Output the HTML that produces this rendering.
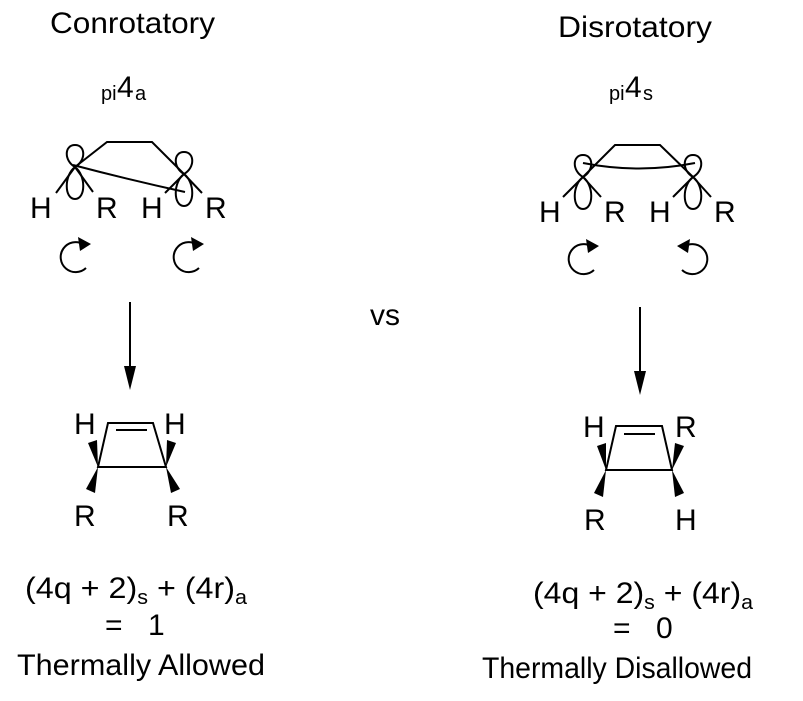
<!DOCTYPE html>
<html><head><meta charset="utf-8"><style>
html,body{margin:0;padding:0;background:#fff;}
svg{display:block;}
text{font-family:"Liberation Sans",Arial,sans-serif;fill:#000;}
</style></head><body>
<svg width="803" height="701" viewBox="0 0 803 701" xmlns="http://www.w3.org/2000/svg">
<defs>
<path id="lobes" d="M0,0 C-11,-6 -11,-22 0,-22 C11,-22 11,-6 0,0 C-11,8 -11,32 0,32 C11,32 11,8 0,0 Z" fill="none" stroke="#000" stroke-width="2"/>
</defs>
<text x="50" y="33" font-size="30" textLength="165" lengthAdjust="spacingAndGlyphs">Conrotatory</text>
<text x="558" y="37" font-size="30" textLength="154" lengthAdjust="spacingAndGlyphs">Disrotatory</text>
<text x="101" y="100" font-size="20">pi</text><text x="117" y="97" font-size="30">4</text><text x="135" y="100" font-size="20">a</text>
<text x="609" y="100" font-size="20">pi</text><text x="625" y="97" font-size="30">4</text><text x="643" y="100" font-size="20">s</text>

<g stroke="#000" stroke-width="2" fill="none">
<polyline points="75,167 107,142 152,142 184,174"/>
<line x1="75" y1="167" x2="56" y2="193"/><line x1="75" y1="167" x2="93" y2="192"/>
<line x1="184" y1="174" x2="165" y2="193"/><line x1="184" y1="174" x2="202" y2="193"/>
<path d="M73,165 Q130,180 185,192"/>
<polyline points="583,177 615,145 660,145 693,177"/>
<line x1="583" y1="177" x2="563" y2="197"/><line x1="583" y1="177" x2="601" y2="197"/>
<line x1="693" y1="177" x2="673" y2="197"/><line x1="693" y1="177" x2="711" y2="197"/>
<path d="M583,163 Q639,174 695,163"/>
<path d="M86,268 A15,15 0 1 1 83,244"/>
<path d="M199,268 A15,15 0 1 1 196,244"/>
<path d="M594,270 A15,15 0 1 1 591,246"/>
<path d="M682,270 A15,15 0 1 0 685,246"/>
<line x1="130" y1="302" x2="130" y2="375"/>
<line x1="640" y1="307" x2="640" y2="380"/>
<polygon points="108,423 153,423 166,467 98,467"/>
<line x1="116" y1="430" x2="147" y2="430"/>
<polygon points="616,426 662,426 672,470 606,470"/>
<line x1="624" y1="434" x2="655" y2="434"/>
</g>
<use href="#lobes" x="75" y="167"/>
<use href="#lobes" x="184" y="174"/>
<use href="#lobes" x="583" y="177"/>
<use href="#lobes" x="693" y="177"/>
<polygon points="91,244 78,237 80,251"/>
<polygon points="204,244 191,237 193,251"/>
<polygon points="599,246 586,239 588,253"/>
<polygon points="677,246 690,239 688,253"/>
<polygon points="124,366 136,366 130,390"/>
<polygon points="634,371 646,371 640,395"/>
<polygon points="98,467 88,443 97,440"/>
<polygon points="98,467 86,489 95,493"/>
<polygon points="166,467 167,440 176,443"/>
<polygon points="166,467 171,493 180,489"/>
<polygon points="606,470 597,446 606,443"/>
<polygon points="606,470 594,493 603,497"/>
<polygon points="672,470 675,443 684,446"/>
<polygon points="672,470 675,497 684,493"/>

<g font-size="30">
<text x="30" y="218">H</text><text x="96" y="218">R</text><text x="141" y="218">H</text><text x="205" y="218">R</text>
<text x="539" y="222">H</text><text x="604" y="222">R</text><text x="649" y="222">H</text><text x="714" y="222">R</text>
<text x="74" y="434">H</text><text x="164" y="434">H</text>
<text x="74" y="526">R</text><text x="167" y="526">R</text>
<text x="583" y="437">H</text><text x="675" y="437">R</text>
<text x="584" y="530">R</text><text x="675" y="530">H</text>
<text x="370" y="325">vs</text>
</g>
<text x="25" y="598" font-size="30" textLength="222" lengthAdjust="spacingAndGlyphs">(4q + 2)<tspan font-size="20" dy="6">s</tspan><tspan dy="-6"> + (4r)</tspan><tspan font-size="20" dy="6">a</tspan></text>
<text x="105" y="635" font-size="30">=</text><text x="148" y="635" font-size="30">1</text>
<text x="17" y="675" font-size="30" textLength="248" lengthAdjust="spacingAndGlyphs">Thermally Allowed</text>
<text x="533" y="603" font-size="30" textLength="220" lengthAdjust="spacingAndGlyphs">(4q + 2)<tspan font-size="20" dy="6">s</tspan><tspan dy="-6"> + (4r)</tspan><tspan font-size="20" dy="6">a</tspan></text>
<text x="613" y="638" font-size="30">=</text><text x="656" y="638" font-size="30">0</text>
<text x="482" y="678" font-size="30" textLength="270" lengthAdjust="spacingAndGlyphs">Thermally Disallowed</text>
</svg>
</body></html>
